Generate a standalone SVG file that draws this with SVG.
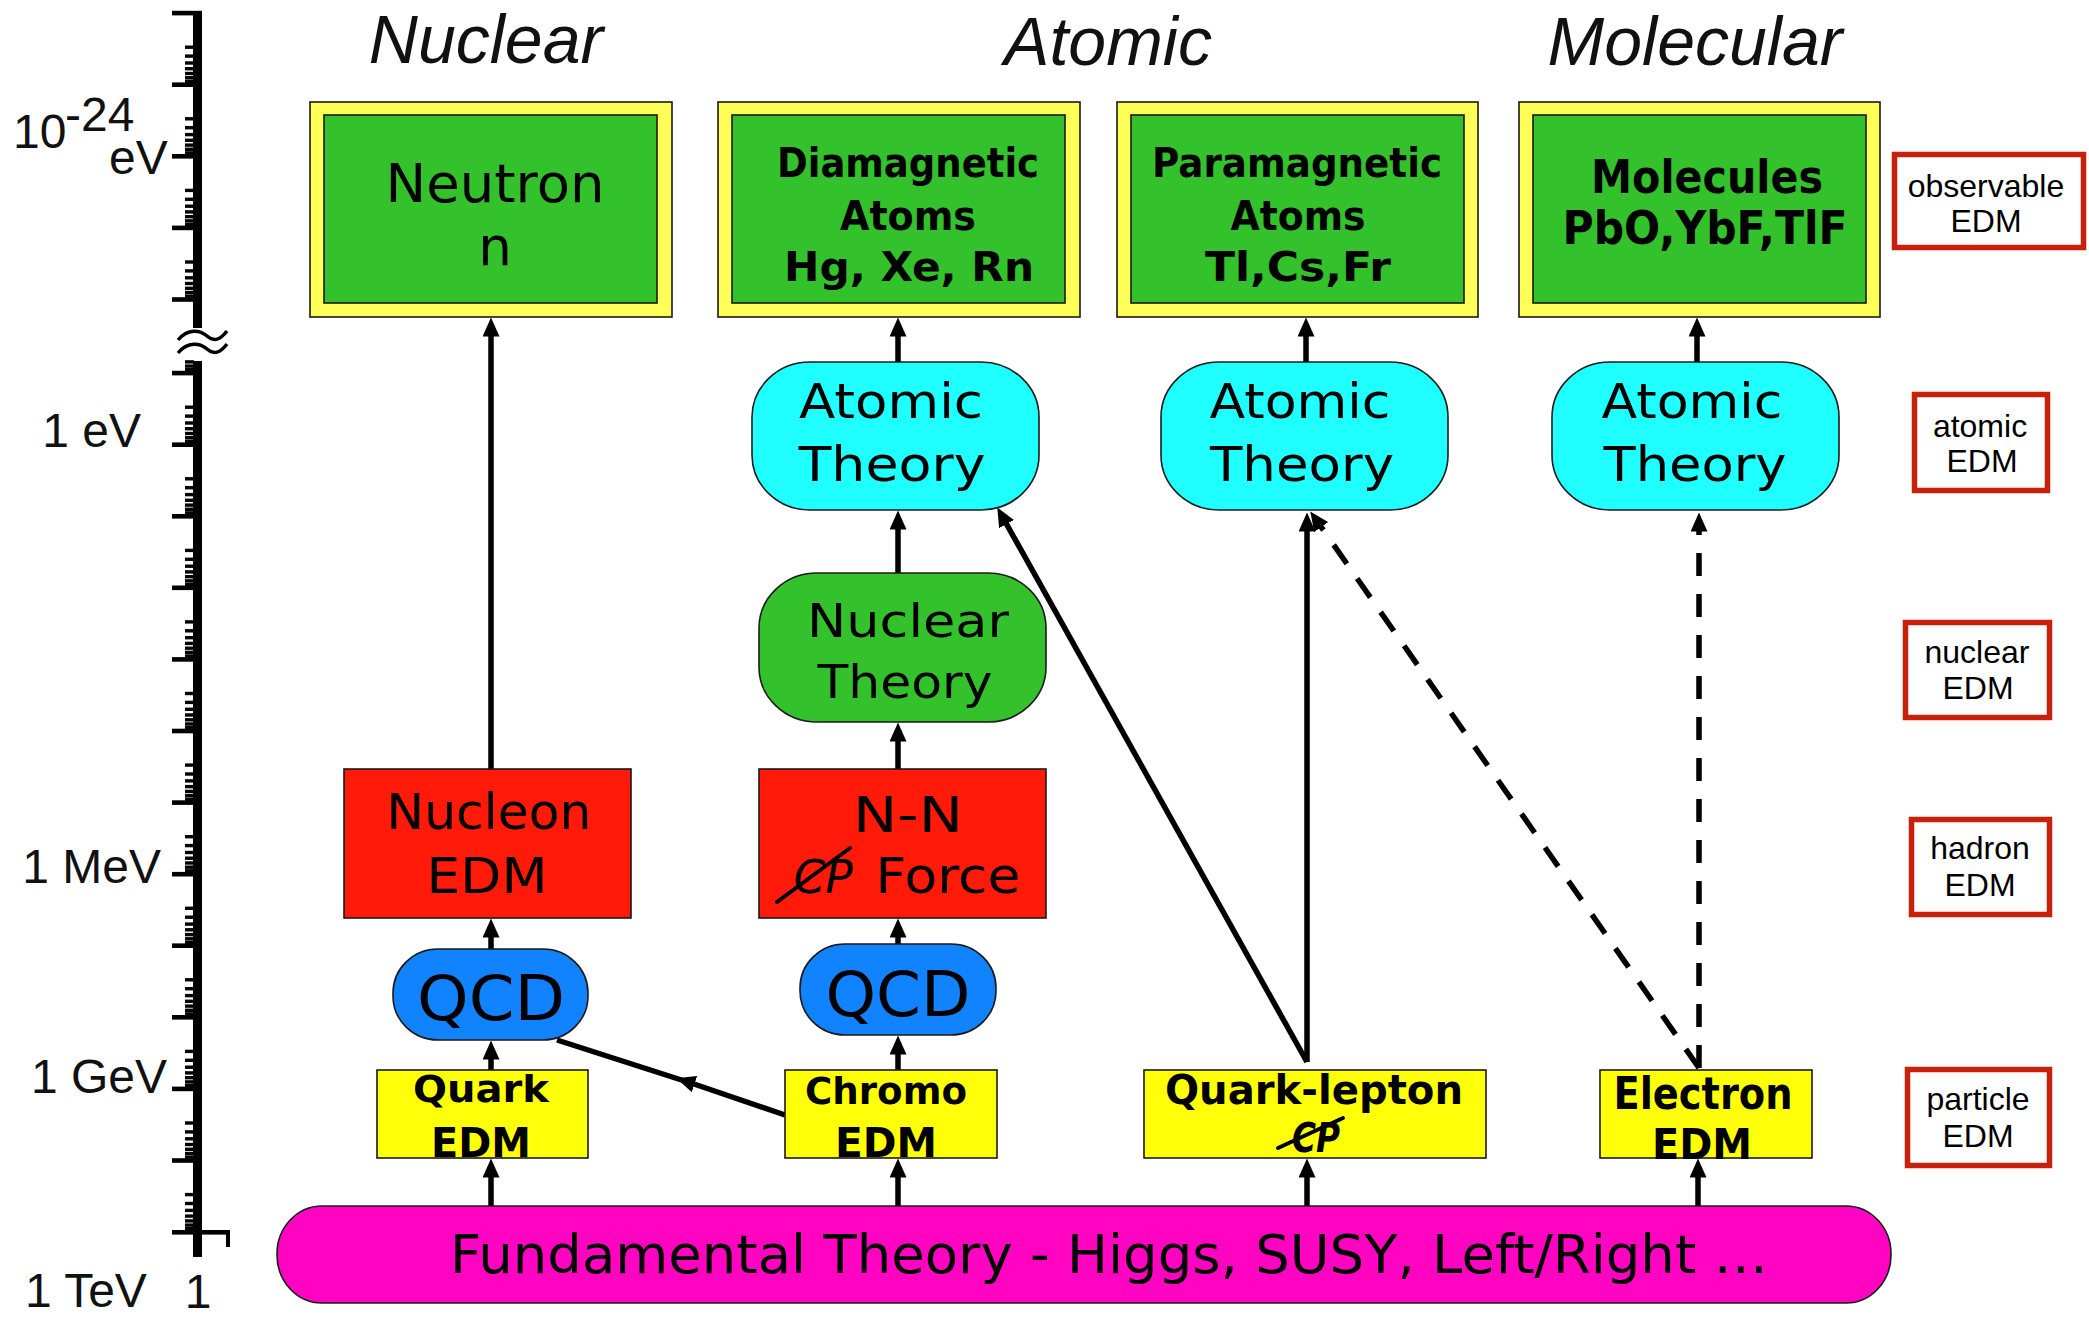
<svg xmlns="http://www.w3.org/2000/svg" width="2089" height="1319" viewBox="0 0 2089 1319">
<style>
  .edge{stroke:#1a1a1a;stroke-width:1.6}
  .frame{fill:#FFFF57}
  .obs{fill:#33C22B}
  .theory{fill:#1FFFFF}
  .nuc{fill:#33C22B}
  .had{fill:#FF1A0A}
  .qcd{fill:#1283FF}
  .part{fill:#FFFF0A}
  .fund{fill:#FF05C1}
  .lvl rect{fill:#fff;stroke:#C8200A;stroke-width:5.5}
  .lvl text{font-family:"Liberation Sans",Arial,sans-serif;font-size:32px;text-anchor:middle;fill:#000}
  .hand{font-family:"DejaVu Sans",Verdana,sans-serif;text-anchor:middle;fill:#000}
  .b{font-weight:bold}
  .col{font-family:"Liberation Sans",Arial,sans-serif;font-style:italic;font-size:68px;text-anchor:middle;fill:#111}
  .scale{font-family:"Liberation Sans",Arial,sans-serif;font-size:48px;fill:#111}
  .link{fill:none;stroke:#000;stroke-width:5.5}
  .weak{stroke-dasharray:23 18;stroke-width:5.5}
  .strike{stroke:#000;stroke-width:4;stroke-linecap:round}
</style>
<defs>
  <marker id="head" viewBox="0 0 19 17" refX="0.5" refY="8.5" markerWidth="19" markerHeight="17" markerUnits="userSpaceOnUse" orient="auto">
    <path d="M0,0 L19,8.5 L0,17 z" fill="#000"/>
  </marker>
  <!-- one decade of the log ruler: major tick plus crowded minor ticks below it -->
  <g id="decade" fill="#000">
    <rect x="172" y="-2.2" width="30" height="4.6"/>
    <rect x="185" y="32.5" width="9" height="3.4"/>
    <rect x="185" y="41.4" width="9" height="3.4"/>
    <rect x="185" y="48.3" width="9" height="3.4"/>
    <rect x="185" y="54" width="9" height="3.4"/>
    <rect x="185" y="58.8" width="9" height="3.4"/>
    <rect x="185" y="63" width="9" height="3.4"/>
    <rect x="185" y="66.6" width="9" height="3.4"/>
  </g>
  <clipPath id="upperScale"><rect x="150" y="8" width="80" height="320"/></clipPath>
  <clipPath id="lowerScale"><rect x="150" y="359" width="80" height="876"/></clipPath>
</defs>

<rect width="2089" height="1319" fill="#fff"/>

<!-- energy scale -->
<g id="energy-axis">
  <rect x="193" y="11" width="9" height="317" fill="#000"/>
  <rect x="193" y="361" width="9" height="896" fill="#000"/>
  <g clip-path="url(#upperScale)">
    <use href="#decade" y="13"/>
    <use href="#decade" y="84.6"/>
    <use href="#decade" y="156.2"/>
    <use href="#decade" y="227.8"/>
    <use href="#decade" y="299.4"/>
  </g>
  <g clip-path="url(#lowerScale)">
    <use href="#decade" y="301.4"/>
    <use href="#decade" y="373"/>
    <use href="#decade" y="444.6"/>
    <use href="#decade" y="516.2"/>
    <use href="#decade" y="587.7"/>
    <use href="#decade" y="659.3"/>
    <use href="#decade" y="730.9"/>
    <use href="#decade" y="802.5"/>
    <use href="#decade" y="874.1"/>
    <use href="#decade" y="945.6"/>
    <use href="#decade" y="1017.2"/>
    <use href="#decade" y="1088.8"/>
    <use href="#decade" y="1160.4"/>
  </g>
  <rect x="172" y="1230" width="58" height="4.6" fill="#000"/>
  <rect x="226" y="1230" width="4" height="17" fill="#000"/>
  <!-- scale break -->
  <path d="M178,340 C188,328 200,330 207,336 C214,342 220,340 227,331" fill="none" stroke="#000" stroke-width="3.5"/>
  <path d="M178,353 C188,341 200,343 207,349 C214,355 220,353 227,344" fill="none" stroke="#000" stroke-width="3.5"/>
  <text class="scale" x="13" y="148" font-size="46">10</text>
  <text class="scale" x="65" y="131" font-size="28">-24</text>
  <text class="scale" x="109" y="174">eV</text>
  <text class="scale" x="141" y="447" text-anchor="end">1 eV</text>
  <text class="scale" x="161" y="883" text-anchor="end">1 MeV</text>
  <text class="scale" x="167" y="1093" text-anchor="end">1 GeV</text>
  <text class="scale" x="25" y="1307" font-size="46">1 TeV</text>
  <text class="scale" x="198" y="1308" font-size="46" text-anchor="middle">1</text>
</g>

<!-- column headings -->
<text class="col" x="486" y="63">Nuclear</text>
<text class="col" x="1108" y="65">Atomic</text>
<text class="col" x="1695" y="65">Molecular</text>

<!-- connectors -->
<g id="connectors">
  <path class="link" d="M491,1206 V1177" marker-end="url(#head)"/>
  <path class="link" d="M491,1070 V1059" marker-end="url(#head)"/>
  <path class="link" d="M491,950 V937" marker-end="url(#head)"/>
  <path class="link" d="M491,775 V336" marker-end="url(#head)"/>

  <path class="link" d="M898,1206 V1177" marker-end="url(#head)"/>
  <path class="link" d="M898,1070 V1054" marker-end="url(#head)"/>
  <path class="link" d="M898,944 V937" marker-end="url(#head)"/>
  <path class="link" d="M898,769 V741" marker-end="url(#head)"/>
  <path class="link" d="M898,573 V529" marker-end="url(#head)"/>
  <path class="link" d="M898,362 V336" marker-end="url(#head)"/>
  <path class="link" d="M785,1115 L694,1084 L557,1040" marker-mid="url(#head)"/>

  <path class="link" d="M1307,1206 V1177" marker-end="url(#head)"/>
  <path class="link" d="M1307,1062 V531" marker-end="url(#head)"/>
  <path class="link" d="M1307,1062 L1006.3,523.6" marker-end="url(#head)"/>
  <path class="link" d="M1306,362 V336" marker-end="url(#head)"/>

  <path class="link" d="M1698,1206 V1177" marker-end="url(#head)"/>
  <path class="link weak" d="M1699,1068 V531" marker-end="url(#head)"/>
  <path class="link weak" d="M1699,1068 L1320.9,526.6" marker-end="url(#head)"/>
  <path class="link" d="M1697,362 V336" marker-end="url(#head)"/>
</g>

<!-- observables -->
<g id="neutron">
  <rect class="frame edge" x="310" y="102" width="362" height="215"/>
  <rect class="obs edge" x="324" y="115" width="333" height="188"/>
  <text class="hand" x="495" y="202" font-size="53" textLength="219" lengthAdjust="spacingAndGlyphs">Neutron</text>
  <text class="hand" x="495" y="265" font-size="53">n</text>
</g>
<g id="diamagnetic-atoms">
  <rect class="frame edge" x="718" y="102" width="362" height="215"/>
  <rect class="obs edge" x="732" y="115" width="333" height="188"/>
  <text class="hand b" x="908" y="177" font-size="41" textLength="262" lengthAdjust="spacingAndGlyphs">Diamagnetic</text>
  <text class="hand b" x="908" y="230" font-size="41" textLength="136" lengthAdjust="spacingAndGlyphs">Atoms</text>
  <text class="hand b" x="909" y="281" font-size="41" textLength="250" lengthAdjust="spacingAndGlyphs">Hg, Xe, Rn</text>
</g>
<g id="paramagnetic-atoms">
  <rect class="frame edge" x="1117" y="102" width="361" height="215"/>
  <rect class="obs edge" x="1131" y="115" width="333" height="188"/>
  <text class="hand b" x="1297" y="177" font-size="41" textLength="290" lengthAdjust="spacingAndGlyphs">Paramagnetic</text>
  <text class="hand b" x="1298" y="230" font-size="41" textLength="135" lengthAdjust="spacingAndGlyphs">Atoms</text>
  <text class="hand b" x="1298" y="281" font-size="41" textLength="186" lengthAdjust="spacingAndGlyphs">Tl,Cs,Fr</text>
</g>
<g id="molecules">
  <rect class="frame edge" x="1519" y="102" width="361" height="215"/>
  <rect class="obs edge" x="1533" y="115" width="333" height="188"/>
  <text class="hand b" x="1707" y="193" font-size="47" textLength="232" lengthAdjust="spacingAndGlyphs">Molecules</text>
  <text class="hand b" x="1705" y="244" font-size="47" textLength="285" lengthAdjust="spacingAndGlyphs">PbO,YbF,TlF</text>
</g>

<!-- atomic theory -->
<g id="atomic-theory-dia">
  <rect class="theory edge" x="752" y="362" width="287" height="148" rx="58" ry="55"/>
  <text class="hand" x="891" y="418" font-size="48" textLength="184" lengthAdjust="spacingAndGlyphs">Atomic</text>
  <text class="hand" x="892" y="481" font-size="48" textLength="187" lengthAdjust="spacingAndGlyphs">Theory</text>
</g>
<g id="atomic-theory-para">
  <rect class="theory edge" x="1161" y="362" width="287" height="148" rx="58" ry="55"/>
  <text class="hand" x="1300" y="418" font-size="48" textLength="181" lengthAdjust="spacingAndGlyphs">Atomic</text>
  <text class="hand" x="1302" y="481" font-size="48" textLength="184" lengthAdjust="spacingAndGlyphs">Theory</text>
</g>
<g id="atomic-theory-mol">
  <rect class="theory edge" x="1552" y="362" width="287" height="148" rx="58" ry="55"/>
  <text class="hand" x="1692" y="418" font-size="48" textLength="181" lengthAdjust="spacingAndGlyphs">Atomic</text>
  <text class="hand" x="1695" y="481" font-size="48" textLength="183" lengthAdjust="spacingAndGlyphs">Theory</text>
</g>

<!-- nuclear theory -->
<g id="nuclear-theory">
  <rect class="nuc edge" x="759" y="573" width="287" height="149" rx="58" ry="55"/>
  <text class="hand" x="908" y="637" font-size="47" textLength="202" lengthAdjust="spacingAndGlyphs">Nuclear</text>
  <text class="hand" x="905" y="698" font-size="47" textLength="175" lengthAdjust="spacingAndGlyphs">Theory</text>
</g>

<!-- hadronic level -->
<g id="nucleon-edm">
  <rect class="had edge" x="344" y="769" width="287" height="149"/>
  <text class="hand" x="489" y="829" font-size="50" textLength="205" lengthAdjust="spacingAndGlyphs">Nucleon</text>
  <text class="hand" x="487" y="893" font-size="50" textLength="121" lengthAdjust="spacingAndGlyphs">EDM</text>
</g>
<g id="nn-force">
  <rect class="had edge" x="759" y="769" width="287" height="149"/>
  <text class="hand" x="908" y="832" font-size="50" textLength="110" lengthAdjust="spacingAndGlyphs">N-N</text>
  <text class="hand" x="823" y="893" font-size="46" font-style="italic" textLength="59" lengthAdjust="spacingAndGlyphs">CP</text>
  <line class="strike" x1="777" y1="902" x2="850" y2="848"/>
  <text class="hand" x="948" y="893" font-size="50" textLength="145" lengthAdjust="spacingAndGlyphs">Force</text>
</g>

<!-- QCD -->
<g id="qcd-quark">
  <rect class="qcd edge" x="393" y="949" width="195" height="91" rx="45" ry="44"/>
  <text class="hand" x="491" y="1020" font-size="62" textLength="148" lengthAdjust="spacingAndGlyphs">QCD</text>
</g>
<g id="qcd-chromo">
  <rect class="qcd edge" x="800" y="944" width="196" height="91" rx="45" ry="44"/>
  <text class="hand" x="898" y="1016" font-size="62" textLength="145" lengthAdjust="spacingAndGlyphs">QCD</text>
</g>

<!-- particle level -->
<g id="quark-edm">
  <rect class="part edge" x="377" y="1070" width="211" height="88"/>
  <text class="hand b" x="481" y="1102" font-size="38" textLength="136" lengthAdjust="spacingAndGlyphs">Quark</text>
  <text class="hand b" x="481" y="1157" font-size="40" textLength="100" lengthAdjust="spacingAndGlyphs">EDM</text>
</g>
<g id="chromo-edm">
  <rect class="part edge" x="785" y="1070" width="212" height="88"/>
  <text class="hand b" x="886" y="1104" font-size="38" textLength="162" lengthAdjust="spacingAndGlyphs">Chromo</text>
  <text class="hand b" x="886" y="1157" font-size="40" textLength="102" lengthAdjust="spacingAndGlyphs">EDM</text>
</g>
<g id="quark-lepton">
  <rect class="part edge" x="1144" y="1070" width="342" height="88"/>
  <text class="hand b" x="1314" y="1104" font-size="40" textLength="298" lengthAdjust="spacingAndGlyphs">Quark-lepton</text>
  <text class="hand b" x="1316" y="1152" font-size="40" font-style="italic" textLength="48" lengthAdjust="spacingAndGlyphs">CP</text>
  <line class="strike" x1="1278" y1="1148" x2="1343" y2="1118"/>
</g>
<g id="electron-edm">
  <rect class="part edge" x="1600" y="1070" width="212" height="88"/>
  <text class="hand b" x="1703" y="1109" font-size="44" textLength="179" lengthAdjust="spacingAndGlyphs">Electron</text>
  <text class="hand b" x="1702" y="1159" font-size="42" textLength="100" lengthAdjust="spacingAndGlyphs">EDM</text>
</g>

<!-- fundamental theory -->
<g id="fundamental-theory">
  <rect class="fund edge" x="277" y="1206" width="1614" height="97" rx="45" ry="48"/>
  <text class="hand" x="1109" y="1273" font-size="54" textLength="1318" lengthAdjust="spacingAndGlyphs">Fundamental Theory - Higgs, SUSY, Left/Right …</text>
</g>

<!-- level labels -->
<g id="level-observable" class="lvl">
  <rect x="1894.5" y="154.5" width="189" height="93"/>
  <text x="1986" y="197">observable</text>
  <text x="1986" y="232">EDM</text>
</g>
<g id="level-atomic" class="lvl">
  <rect x="1914.5" y="394.5" width="133" height="96"/>
  <text x="1980" y="437">atomic</text>
  <text x="1982" y="472">EDM</text>
</g>
<g id="level-nuclear" class="lvl">
  <rect x="1905.5" y="622.5" width="144" height="95"/>
  <text x="1977" y="663">nuclear</text>
  <text x="1978" y="699">EDM</text>
</g>
<g id="level-hadron" class="lvl">
  <rect x="1911.5" y="819.5" width="138" height="95"/>
  <text x="1980" y="859">hadron</text>
  <text x="1980" y="896">EDM</text>
</g>
<g id="level-particle" class="lvl">
  <rect x="1907.5" y="1069.5" width="142" height="96"/>
  <text x="1978" y="1110">particle</text>
  <text x="1978" y="1147">EDM</text>
</g>
</svg>
